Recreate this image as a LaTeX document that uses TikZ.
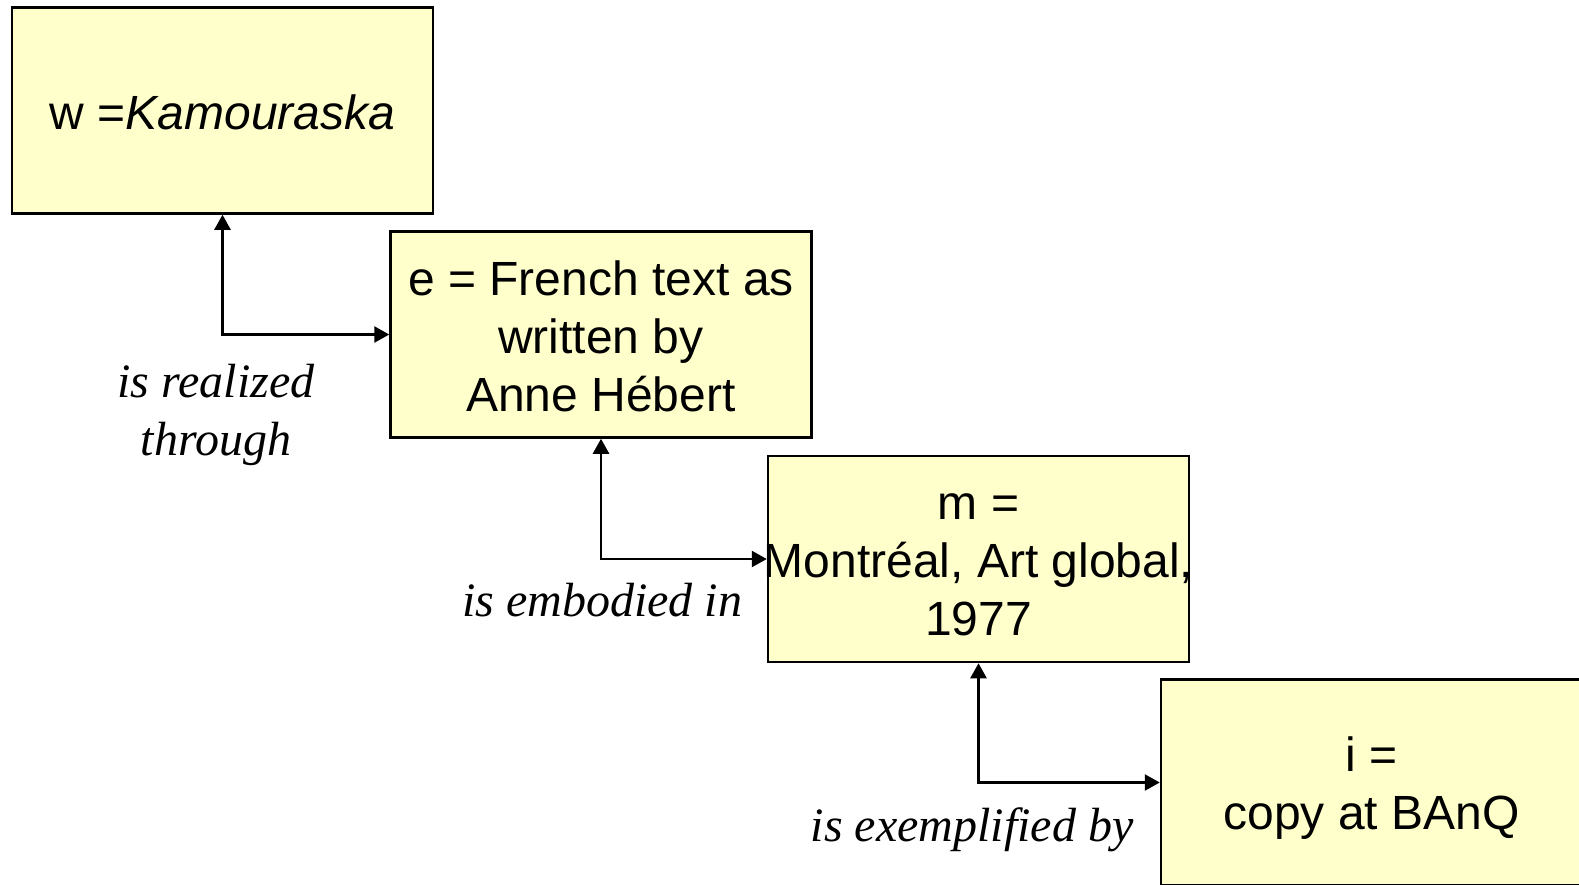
\documentclass[tikz,border=0pt]{standalone}
\usepackage{fontspec}
\setmainfont{Liberation Sans}
\newfontfamily\relfont{Liberation Serif}
\usetikzlibrary{arrows.meta}
\definecolor{boxfill}{HTML}{FFFFCC}
\newcommand{\boxstrut}{\rule[-0.17em]{0pt}{1.12em}}

\begin{document}
\begin{tikzpicture}[x=0.5pt, y=-0.5pt,
    entity/.style={draw, fill=boxfill, line width=1.25pt,
        inner xsep=-4pt, inner ysep=0pt,
        minimum width=210.5pt, minimum height=103pt, align=center,
        font=\fontsize{24pt}{29pt}\selectfont,
        execute at end node=\boxstrut},
    rel/.style={inner sep=0pt, align=center,
        font=\relfont\itshape\fontsize{24pt}{28.75pt}\selectfont},
    link/.style={line width=1.25pt,
        {Triangle[length=7.5pt,width=8pt]}-{Triangle[length=7.5pt,width=8pt]}}]
    \useasboundingbox (0,0) rectangle (1579,884);

    \node[entity] (w) at (222.5,110.5) {\boxstrut w =\textit{Kamouraska}};
    \node[entity] (e) at (601,334.5) {\boxstrut e = French text as\\written by\\Anne Hébert};
    \node[entity] (m) at (978.5,559) {\boxstrut m =\\Montréal, Art global,\\1977};
    \node[entity] (i) at (1371.5,782.5) {\boxstrut i =\\copy at BAnQ};

    \node[rel] (realized) at (216,415) {is realized\\through};
    \node[rel, anchor=base] (embodied) at (602,616) {is embodied in};
    \node[rel, anchor=base] (exemplified) at (972,841) {is exemplified by};

    \draw[link] (w.south) |- (e.west);
    \draw[link] (e.south) |- (m.west);
    \draw[link] (m.south) |- (i.west);
\end{tikzpicture}
\end{document}
